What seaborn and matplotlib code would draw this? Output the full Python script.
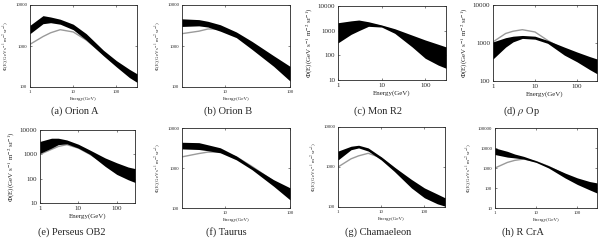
import numpy as np
import matplotlib
matplotlib.use("Agg")
import matplotlib.pyplot as plt
import seaborn as sns

sns.set_style("ticks")
plt.rcParams['font.family'] = ['Liberation Serif', 'DejaVu Serif']
plt.rcParams['mathtext.fontset'] = 'stix'

# energy grids (GeV)
energy = [1, 2, 3, 5, 10, 20, 50, 100, 200, 300]
energy_short = [2.2, 4, 5.5, 8.5, 15, 26, 56, 100]

# flux band (upper / lower) and model curve
orion_a_up = [3200, 5500, 5100, 4500, 3400, 2000, 790, 440, 270, 210]
orion_a_lo = [2000, 3500, 3700, 3400, 2500, 1400, 580, 310, 170, 130]
orion_a_model = [1100, 1700, 2100, 2500, 2200, 1400, 630, 350, 210, 160]

orion_b_up = [4600, 4400, 4000, 3300, 2200, 1300, 580, 320]
orion_b_lo = [3000, 3100, 2900, 2300, 1600, 830, 320, 140]
orion_b_model = [2000, 2300, 2600, 2600, 1800, 1000, 430, 210]

mon_r2_up = [2100, 2500, 2700, 2300, 1700, 1200, 660, 420, 280, 220]
mon_r2_lo = [320, 710, 1000, 1500, 1400, 780, 220, 76, 40, 30]
mon_r2_model = [900, 1500, 1700, 1900, 1500, 1000, 450, 230, 120, 90]

rho_op_up = [1070, 1380, 1510, 1580, 1510, 1170, 780, 580, 440, 380]
rho_op_lo = [380, 780, 1070, 1320, 1260, 980, 480, 320, 200, 155]
rho_op_model = [1070, 1780, 2040, 2240, 1950, 1170, 650, 390, 240, 190]

perseus_up = [3400, 4600, 4600, 3900, 2600, 1500, 710, 450, 300, 260]
perseus_lo = [1100, 1800, 2500, 2700, 1800, 1000, 320, 150, 90, 70]
perseus_model = [1000, 1600, 2100, 2500, 1800, 1000, 400, 220, 140, 110]

taurus_up = [4400, 4300, 3800, 3200, 2000, 1100, 510, 320]
taurus_lo = [3000, 2900, 2700, 2400, 1600, 910, 350, 160]
taurus_model = [1900, 2300, 2500, 2500, 1900, 1100, 470, 230]

chamaeleon_up = [2500, 3300, 3500, 3000, 1800, 1000, 490, 300, 210, 170]
chamaeleon_lo = [1500, 2700, 3000, 2500, 1500, 780, 300, 170, 120, 105]
chamaeleon_model = [1000, 1600, 1900, 2200, 1700, 950, 410, 250, 170, 140]

r_cra_up = [10000, 6800, 5000, 3800, 2300, 1300, 560, 320, 210, 180]
r_cra_lo = [4700, 3500, 3200, 2800, 1900, 1000, 320, 150, 80, 56]
r_cra_model = [1000, 1900, 2400, 2800, 2100, 1200, 470, 230, 130, 100]

captions = ["(a) Orion A", "(b) Orion B", "(c) Mon R2", r"(d) $\rho$ Op",
            "(e) Perseus OB2", "(f) Taurus", "(g) Chamaeleon", "(h) R CrA"]

panels = [
    (energy, orion_a_up, orion_a_lo, orion_a_model),
    (energy_short, orion_b_up, orion_b_lo, orion_b_model),
    (energy, mon_r2_up, mon_r2_lo, mon_r2_model),
    (energy, rho_op_up, rho_op_lo, rho_op_model),
    (energy, perseus_up, perseus_lo, perseus_model),
    (energy_short, taurus_up, taurus_lo, taurus_model),
    (energy, chamaeleon_up, chamaeleon_lo, chamaeleon_model),
    (energy, r_cra_up, r_cra_lo, r_cra_model),
]

# layout in pixels: x0, x1, y0, y1 (top-left origin), caption centre
boxes = [(30, 137, 5, 87), (182, 290, 5, 87), (338, 446, 6, 80), (493, 597, 5, 81),
         (40, 135, 130, 203), (182, 290, 128, 208), (338, 445, 127, 207), (495, 597, 128, 208)]
cap_pos = [(75, 111), (228, 111), (378, 111), (521, 111),
           (72, 232), (226, 232), (378, 232), (523, 232)]
xlims = [(1, 300), (2.2, 100), (1, 300), (1, 300), (1, 300), (2.2, 100), (1, 300), (1, 300)]
ylims = [(100, 1e4), (100, 1e4), (10, 1e4), (100, 1e4), (10, 1e4), (100, 1e4), (100, 1e4), (10, 1e5)]
label_size = [3.5, 3.5, 5, 5, 5, 3.5, 3.5, 3.5]

ylabel = r"$\Phi$(E)(GeV s$^{-1}$ m$^{-2}$ sr$^{-1}$)"

fig = plt.figure(figsize=(6, 2.4), dpi=100)
W, H = 600, 240

for i, (E, up, lo, model) in enumerate(panels):
    x0, x1, y0, y1 = boxes[i]
    ax = fig.add_axes([x0 / W, 1 - y1 / H, (x1 - x0) / W, (y1 - y0) / H])
    sns.lineplot(x=E, y=model, color="#9a9a9a", lw=1.0, ax=ax, zorder=2)
    ax.fill_between(E, lo, up, color="black", lw=0, zorder=3)
    ax.set_xscale("log")
    ax.set_yscale("log")
    ax.set_xlim(*xlims[i])
    ax.set_ylim(*ylims[i])

    xt = [t for t in [1, 10, 100] if xlims[i][0] <= t <= xlims[i][1]]
    yt = [t for t in [10, 100, 1000, 10000, 100000] if ylims[i][0] <= t <= ylims[i][1]]
    ax.set_xticks(xt)
    ax.set_xticklabels([str(t) for t in xt])
    ax.set_yticks(yt)
    ax.set_yticklabels([str(t) for t in yt])
    ax.minorticks_off()

    fs = label_size[i]
    ax.tick_params(direction="in", length=1.5, width=0.4, labelsize=fs, pad=2,
                   top=True, right=True)
    for s in ax.spines.values():
        s.set_linewidth(0.6)
    ax.set_xlabel("Energy(GeV)", fontsize=fs, labelpad=2)
    ax.set_ylabel(ylabel, fontsize=fs, labelpad=2)

    cx, cy = cap_pos[i]
    fig.text(cx / W, 1 - cy / H, captions[i], ha="center", va="center", fontsize=7.5)

fig.savefig("out.png", dpi=100)
